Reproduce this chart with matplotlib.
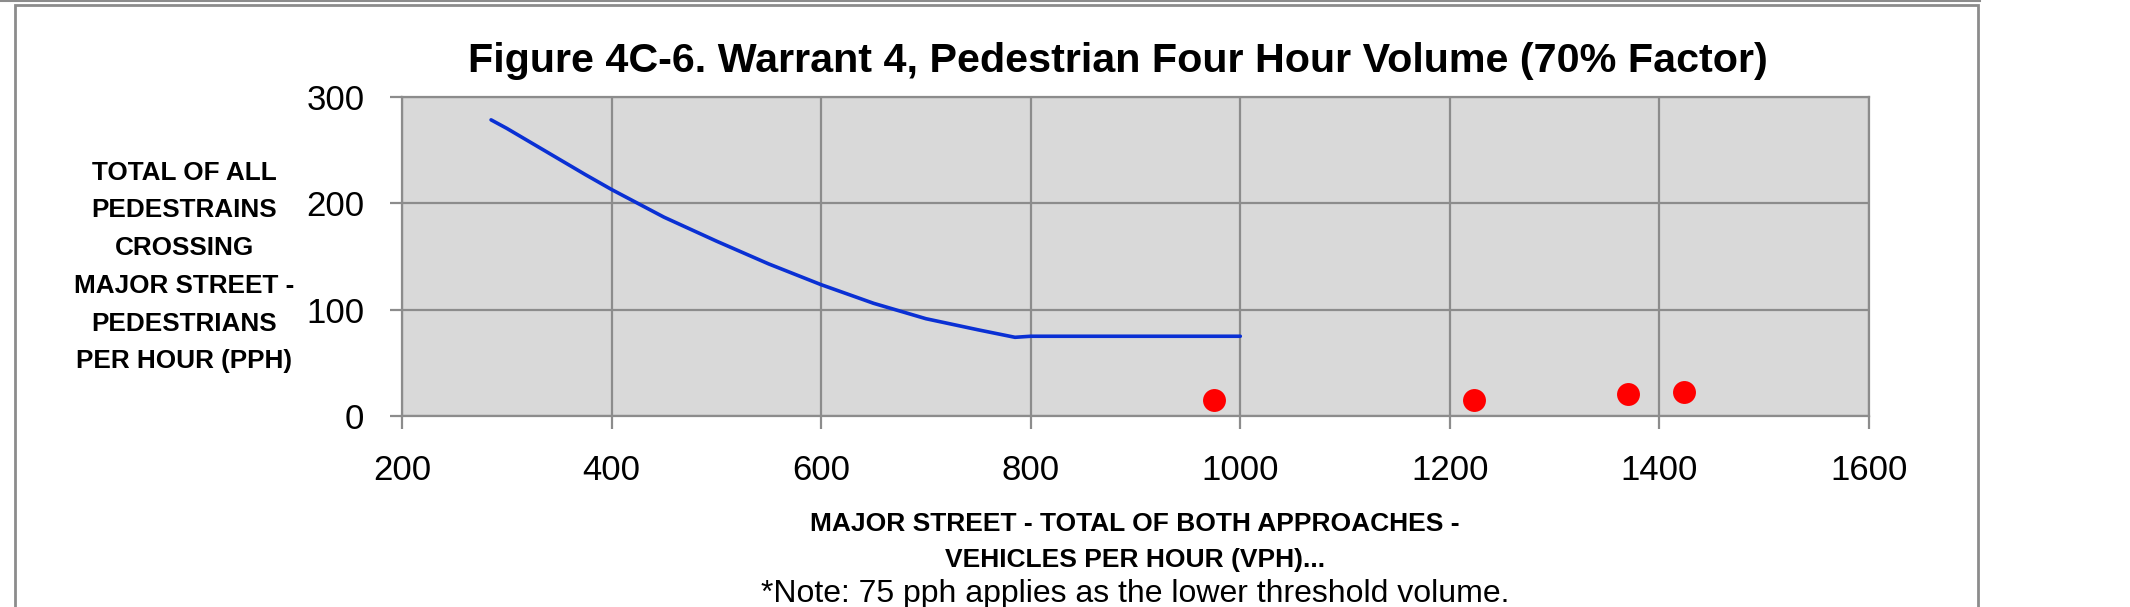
import matplotlib
matplotlib.use("Agg")
import matplotlib.pyplot as plt
from matplotlib.patches import Rectangle
from matplotlib.lines import Line2D

plt.rcParams['font.family'] = ['Liberation Sans', 'DejaVu Sans']

# warrant curve (70% factor)
curve_x = [285, 300, 325, 350, 375, 400, 450, 500, 550, 600, 650, 700, 750, 785, 800, 1000]
curve_y = [278.5, 270.5, 256, 241.5, 227, 213, 187, 164.5, 143, 123.5, 106, 91.5, 81, 74, 75, 75]

# observed volumes
pts_x = [975, 1223, 1370, 1423]
pts_y = [15, 15, 21, 23]

xticks = [200, 400, 600, 800, 1000, 1200, 1400, 1600]
yticks = [0, 100, 200, 300]

title = "Figure 4C-6. Warrant 4, Pedestrian Four Hour Volume (70% Factor)"
ylab = "TOTAL OF ALL\nPEDESTRAINS\nCROSSING\nMAJOR STREET -\nPEDESTRIANS\nPER HOUR (PPH)"
xlab = "MAJOR STREET - TOTAL OF BOTH APPROACHES -\nVEHICLES PER HOUR (VPH)..."
note = "*Note: 75 pph applies as the lower threshold volume."

W, H = 2130, 607
fig = plt.figure(figsize=(W / 100, H / 100), dpi=100)
grey = '#8c8c8c'

# chart frame
fig.add_artist(Line2D([0, 1980 / W], [1 - 1 / H, 1 - 1 / H], color=grey, lw=1.5))
fig.add_artist(Rectangle((15 / W, -0.05), (1978 - 15) / W, 1.05 - 5 / H,
                         fill=False, edgecolor=grey, lw=2))

ax = fig.add_axes([402 / W, 1 - 416 / H, (1869 - 402) / W, (416 - 97) / H])
ax.set_facecolor('#d9d9d9')
ax.plot(curve_x, curve_y, color='#0a30d4', lw=2.6, zorder=3,
        solid_joinstyle='round', solid_capstyle='round')
ax.plot(pts_x, pts_y, 'o', color='#ff0000', ms=16.5, mec='none', zorder=4)

ax.set_xlim(200, 1600)
ax.set_ylim(0, 300)
ax.set_xticks(xticks)
ax.set_yticks(yticks)
ax.grid(True, color=grey, lw=1.6)
ax.set_axisbelow(True)
for s in ax.spines.values():
    s.set_color(grey)
    s.set_linewidth(1.6)
ax.tick_params(direction='out', length=9, width=1.6, color=grey, labelsize=25, pad=18)

fig.text(1118 / W, 1 - 61 / H, title, ha='center', va='center', fontsize=29.7, fontweight='bold')
fig.text(184 / W, 1 - 267 / H, ylab, ha='center', va='center', fontsize=18.8,
         fontweight='bold', linespacing=1.72)
fig.text(1135 / W, 1 - 542 / H, xlab, ha='center', va='center', fontsize=19,
         fontweight='bold', linespacing=1.65)
fig.text(1135 / W, 1 - 594 / H, note, ha='center', va='center', fontsize=23)

fig.savefig('out.png', dpi=100)
